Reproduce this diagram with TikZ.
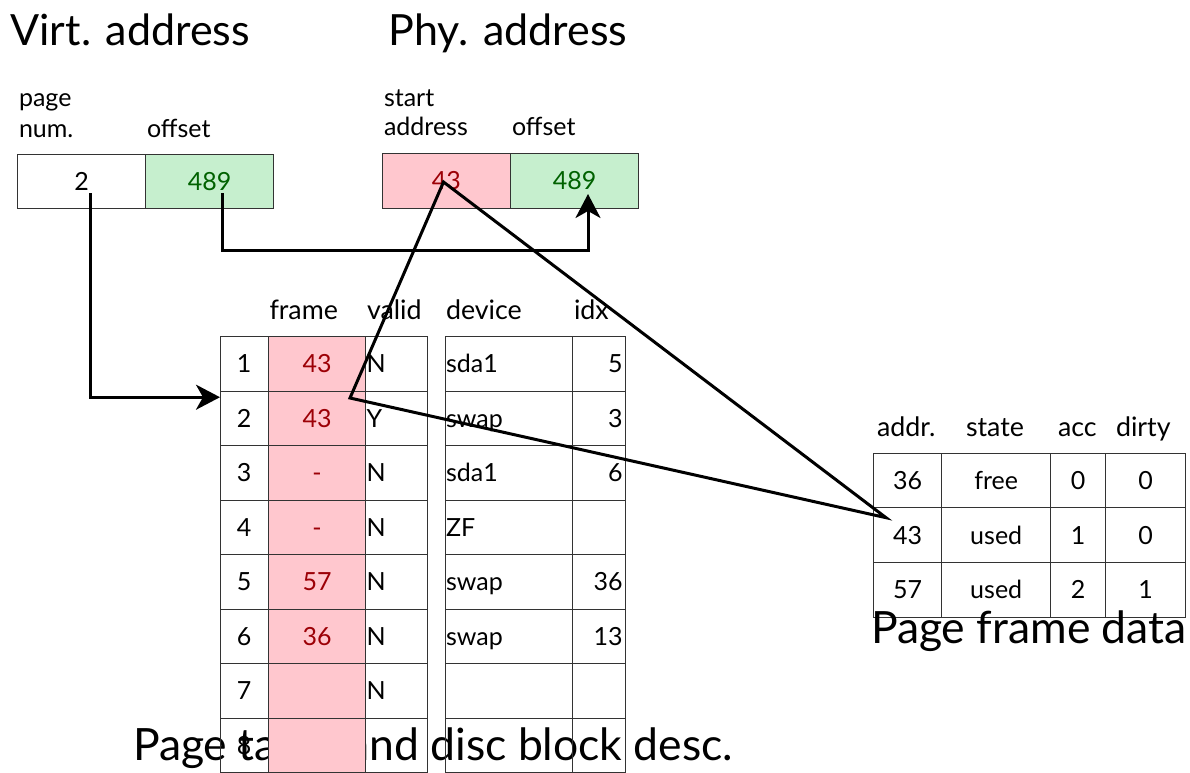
\documentclass[tikz,border=0pt]{standalone}
\usepackage{fontspec}
\setmainfont{Lato}
\usetikzlibrary{arrows.meta,calc}

\definecolor{badfill}{HTML}{FFC7CE}
\definecolor{badtext}{HTML}{9C0006}
\definecolor{goodfill}{HTML}{C6EFCE}
\definecolor{goodtext}{HTML}{006100}
\definecolor{gridline}{HTML}{333333}

\begin{document}
\begin{tikzpicture}[x=1pt,y=-1pt,
  every node/.style={inner sep=0pt, outer sep=0pt},
  title/.style={font=\fontsize{43}{52}\selectfont, anchor=base west},
  caption/.style={font=\fontsize{44.5}{54}\selectfont, anchor=base west},
  lbl/.style={font=\fontsize{25}{30.5}\selectfont, anchor=base west},
  hdr/.style={font=\fontsize{26.8}{32}\selectfont, anchor=base west},
  cell/.style={draw=gridline, line width=1pt, rectangle, anchor=north west,
    text height=18pt, text depth=0pt, font=\fontsize{25}{30}\selectfont},
  cc/.style={cell, minimum width=#1},
  cl/.style={cell, inner xsep=1pt, text width=#1-2pt, align=left},
  cr/.style={cell, inner xsep=2.5pt, text width=#1-5pt, align=right},
  bad/.style={fill=badfill, text=badtext},
  good/.style={fill=goodfill, text=goodtext},
  conn/.style={line width=3pt, -{Stealth[length=24pt,width=25pt,inset=7pt]}},
  tri/.style={line width=3pt, line join=miter},
]
\useasboundingbox (0,0) rectangle (1190,772);

% titles
\node[title] (tvirt) at (10.5,45) {Virt. address};
\node[title] (tphy) at (388.5,45) {Phy. address};

% virtual address
\node[lbl] (lpage) at (19,106.7) {page};
\node[lbl] (lnum) at (19,137.3) {num.};
\node[lbl] (loffv) at (147,137.3) {offset};
\node[cc=128.2pt, minimum height=54.7pt] (vpn) at (17.5,154) {2};
\node[cc=128pt, minimum height=54.7pt, good] (voff) at (145.7,154) {489};

% physical address
\node[lbl] (lstart) at (384,106) {start};
\node[lbl] (laddr) at (384,135.5) {address};
\node[lbl] (loffp) at (512,135.5) {offset};
\node[cc=128pt, minimum height=54.7pt, bad] (pfr) at (382.3,153.5) {43};
\node[cc=128.4pt, minimum height=54.7pt, good] (poff) at (510.3,153.5) {489};

% caption of the page table sits underneath its last row
\node[caption] (cpt) at (133,760) {Page table and disc block desc.};

% page table headers
\node[hdr] (hframe) at (269.5,319.3) {frame};
\node[hdr] (hvalid) at (367,319.3) {valid};
\node[hdr] (hdevice) at (446,319.3) {device};
\node[hdr] (hidx) at (574,319.3) {idx};

% page table rows
\foreach \r/\fr/\va/\de/\ix in {1/43/N/sda1/5, 2/43/Y/swap/3, 3/-/N/sda1/6,
    4/-/N/ZF/{}, 5/57/N/swap/36, 6/36/N/swap/13, 7/{}/N/{}/{}, 8/{}/{}/{}/{}} {
  \pgfmathsetmacro{\top}{336.7+54.5*(\r-1)}
  \node[cc=48.3pt, minimum height=54.5pt] (pi\r) at (220,\top) {\r};
  \node[cc=97.4pt, minimum height=54.5pt, bad] (pf\r) at (268.3,\top) {\fr};
  \node[cl=61.6pt, minimum height=54.5pt] (pv\r) at (365.7,\top) {\va};
  \node[cl=127.3pt, minimum height=54.5pt] (pd\r) at (445,\top) {\de};
  \node[cr=52.7pt, minimum height=54.5pt] (px\r) at (572.3,\top) {\ix};
}

% page frame data
\node[hdr] (haddr) at (877,436) {addr.};
\node[hdr] (hstate) at (966,436) {state};
\node[hdr] (hacc) at (1058,436) {acc};
\node[hdr] (hdirty) at (1116,436) {dirty};
\foreach \r/\ad/\st/\ac/\di in {1/36/free/0/0, 2/43/used/1/0, 3/57/used/2/1} {
  \pgfmathsetmacro{\top}{453.3+54.67*(\r-1)}
  \node[cc=68.4pt, minimum height=54.67pt] (fa\r) at (873.3,\top) {\ad};
  \node[cc=109pt, minimum height=54.67pt] (fs\r) at (941.7,\top) {\st};
  \node[cc=55pt, minimum height=54.67pt] (fc\r) at (1050.7,\top) {\ac};
  \node[cc=80pt, minimum height=54.67pt] (fd\r) at (1105.7,\top) {\di};
}
\node[caption] (cpf) at (871,643) {Page frame data};

% page number -> page table entry
\coordinate (s1) at ($(vpn.north west)+(73,39)$);
\draw[conn] (s1) |- ($(pi2.north west)+(0,6)$);

% offset copied into the physical address
\coordinate (s2) at ($(voff.north west)+(76.3,39)$);
\coordinate (t2) at ($(poff.north west)+(77.7,40.5)$);
\draw[conn] (s2) -- ++(0,57) -| (t2);

% frame number links
\coordinate (A) at ($(pfr.north west)+(61.2,28.5)$);
\coordinate (B) at ($(pf2.north west)+(81.7,6.8)$);
\coordinate (C) at ($(fa2.north west)+(12.7,9.7)$);
\draw[tri] (A) -- (B) -- (C) -- cycle;
\end{tikzpicture}
\end{document}
